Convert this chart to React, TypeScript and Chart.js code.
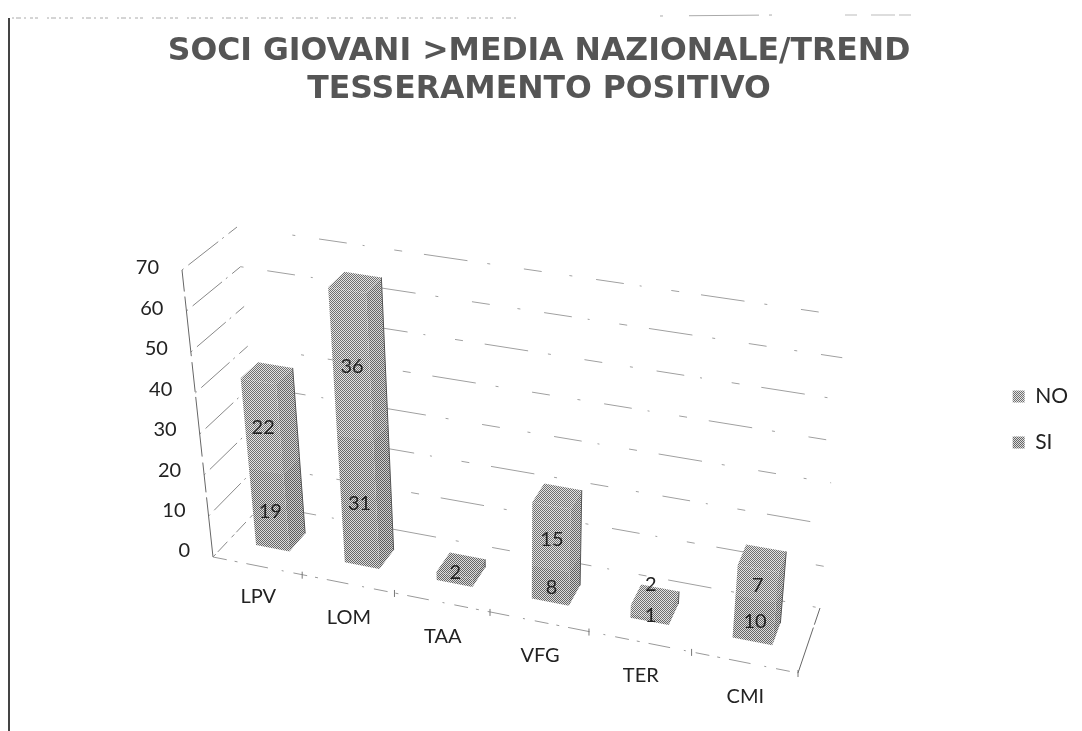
import React, { useEffect, useRef } from "react";
import { Chart, registerables } from "chart.js";

Chart.register(...registerables);

const categories = ["LPV", "LOM", "TAA", "VFG", "TER", "CMI"];
const siValues = [19, 31, 2, 8, 1, 10];
const noValues = [22, 36, 0, 15, 2, 7];
const titleLines = ["SOCI GIOVANI >MEDIA NAZIONALE/TREND", "TESSERAMENTO POSITIVO"];
const LABEL_FONT = "Lato, 'Open Sans', sans-serif";

type Pt = [number, number];
// corners of the drawn perspective box (front/back, bottom/top, left/right)
const FBL: Pt = [213, 557], FBR: Pt = [798, 673], BBL: Pt = [262, 505], BBR: Pt = [820, 608];
const FTL: Pt = [182, 270], FTR: Pt = [828, 368], BTL: Pt = [237, 227], BTR: Pt = [846, 316];
const DEPTH_FRONT = 0.33, DEPTH_BACK = 0.67;

const warp = (u: number) => (u * 0.8994) / (1 - 0.1006 * u);
const lerp = (a: Pt, b: Pt, t: number): Pt => [a[0] + (b[0] - a[0]) * t, a[1] + (b[1] - a[1]) * t];
const project = (u: number, d: number, v: number): Pt => {
  const w = warp(u);
  const bottom = lerp(lerp(FBL, FBR, w), lerp(BBL, BBR, w), d);
  const top = lerp(lerp(FTL, FTR, w), lerp(BTL, BTR, w), d);
  return lerp(bottom, top, v);
};

function makePattern(dark: string, light: string): CanvasPattern {
  const c = document.createElement("canvas");
  c.width = 2;
  c.height = 2;
  const g = c.getContext("2d")!;
  g.fillStyle = light;
  g.fillRect(0, 0, 2, 2);
  g.fillStyle = dark;
  g.fillRect(0, 0, 1, 1);
  g.fillRect(1, 1, 1, 1);
  return g.createPattern(c, "repeat")!;
}

const poly = (ctx: CanvasRenderingContext2D, pts: Pt[], fill: any) => {
  ctx.beginPath();
  pts.forEach((p, i) => (i ? ctx.lineTo(p[0], p[1]) : ctx.moveTo(p[0], p[1])));
  ctx.closePath();
  ctx.fillStyle = fill;
  ctx.fill();
};
const line = (ctx: CanvasRenderingContext2D, a: Pt, b: Pt, dash: number[], color = "#999", w = 1) => {
  ctx.save();
  ctx.setLineDash(dash);
  ctx.strokeStyle = color;
  ctx.lineWidth = w;
  ctx.beginPath();
  ctx.moveTo(a[0], a[1]);
  ctx.lineTo(b[0], b[1]);
  ctx.stroke();
  ctx.restore();
};

const scene = {
  id: "scene",
  beforeDatasetsDraw(chart: any) {
    const { ctx, chartArea: ca, scales } = chart;
    const y = scales.y;
    const toU = (px: number) => (px - ca.left) / (ca.right - ca.left);
    const toV = (px: number) => (ca.bottom - px) / (ca.bottom - ca.top);

    // page frame of the scan
    line(ctx, [9, 18], [9, 731], [], "#444", 2);
    line(ctx, [12, 18], [520, 18], [2, 2, 5, 3, 2, 4, 3, 2, 3, 9], "#aaa", 1);
    line(ctx, [660, 16], [775, 15], [3, 26, 70, 10], "#aaa", 1);
    line(ctx, [845, 15], [925, 15], [12, 14, 24, 4], "#bbb", 1);

    // walls & floor
    const gridDash = [3, 24, 28, 16, 2, 30, 8, 22, 44, 20, 3, 34, 18, 28];
    const sideDash = [2, 6, 38, 5];
    y.ticks.forEach((t: any) => {
      const v = toV(y.getPixelForValue(t.value));
      line(ctx, project(0, 0, v), project(0, 1, v), t.value === 0 ? [4, 3, 14, 6] : sideDash, "#888");
      const dashOffsetStart = project(0.01 * (t.value % 30), 1, v);
      line(ctx, dashOffsetStart, project(1, 1, v), gridDash, "#a0a0a0");
    });
    line(ctx, project(0, 0, 0), project(0, 0, 1), [60, 5, 30, 6], "#666");
    const floorDash = [14, 8, 3, 9, 22, 14, 2, 10];
    line(ctx, project(0, 0, 0), project(1, 0, 0), floorDash, "#999");
    line(ctx, project(1, 0, 0), project(1, 1, 0), [48, 3], "#666");
    categories.forEach((_, i) => {
      const p = project((i + 1) / categories.length, 0, 0);
      line(ctx, [p[0], p[1] - 3], [p[0], p[1] + 4], [], "#777");
    });

    // bars: every box comes from the element geometry of the bar controller
    const metas = [chart.getDatasetMeta(0), chart.getDatasetMeta(1)];
    const sideFills = [makePattern("#5c5c5c", "#cfcfcf"), makePattern("#666", "#d6d6d6")];
    categories.forEach((_, i) => {
      metas.forEach((meta: any, di: number) => {
        const el = meta.data[i];
        const value = chart.data.datasets[di].data[i];
        if (!value) return;
        const u0 = toU(el.x - el.width / 2), u1 = toU(el.x + el.width / 2);
        const v0 = toV(el.base), v1 = toV(el.y);
        const fill = chart.data.datasets[di].backgroundColor;
        const a = DEPTH_FRONT, b = DEPTH_BACK;
        poly(ctx, [project(u1, a, v0), project(u1, b, v0), project(u1, b, v1), project(u1, a, v1)], sideFills[di]);
        poly(ctx, [project(u0, a, v0), project(u1, a, v0), project(u1, a, v1), project(u0, a, v1)], fill);
        poly(ctx, [project(u0, a, v1), project(u1, a, v1), project(u1, b, v1), project(u0, b, v1)], fill);
        line(ctx, project(u1, b, v0), project(u1, b, v1), [], "#555");
      });
      metas.forEach((meta: any, di: number) => {
        const el = meta.data[i];
        const value = chart.data.datasets[di].data[i];
        if (!value) return;
        const p = project(toU(el.x), DEPTH_FRONT, (toV(el.base) + toV(el.y)) / 2);
        // thin segments: the label is pushed clear of its neighbour
        const other = chart.data.datasets[1 - di].data[i];
        let nudge = 2;
        if (value <= 2) nudge = di === 1 ? -28 : other ? -4 : -7;
        ctx.font = `20px ${LABEL_FONT}`;
        ctx.fillStyle = "#222";
        ctx.textAlign = "center";
        ctx.textBaseline = "middle";
        ctx.fillText(String(value), p[0] + 1, p[1] + nudge);
      });
    });

    // axis labels
    ctx.font = `20px ${LABEL_FONT}`;
    ctx.fillStyle = "#222";
    ctx.textBaseline = "middle";
    ctx.textAlign = "right";
    y.ticks.forEach((t: any) => {
      const v = toV(y.getPixelForValue(t.value));
      const p = project(0, 0, v);
      ctx.fillText(String(t.value), p[0] - 23, p[1] - 6 + 4 * v);
    });
    ctx.textAlign = "center";
    const xs = scales.x;
    categories.forEach((c, i) => {
      const p = project(toU(xs.getPixelForTick(i)), 0, 0);
      ctx.fillText(c, p[0] + 1, p[1] + (i === 0 ? 31 : 34));
    });
    return false;
  },
};

export default function App() {
  const ref = useRef<HTMLCanvasElement>(null);
  useEffect(() => {
    const chart = new Chart(ref.current!, {
      type: "bar",
      data: {
        labels: categories,
        datasets: [
          { label: "SI", data: siValues, backgroundColor: makePattern("#666", "#dcdcdc") as any, stack: "s" },
          { label: "NO", data: noValues, backgroundColor: makePattern("#707070", "#e4e4e4") as any, stack: "s" },
        ],
      },
      options: {
        responsive: false,
        animation: false,
        layout: { padding: { left: 0, right: 14, top: 0, bottom: 0 } },
        datasets: { bar: { categoryPercentage: 1, barPercentage: 0.38 } },
        scales: {
          x: { stacked: true, grid: { display: false }, border: { display: false }, ticks: { display: false } },
          y: {
            stacked: true,
            min: 0,
            max: 70,
            grid: { display: false },
            border: { display: false },
            ticks: { display: false, stepSize: 10 },
          },
        },
        plugins: {
          title: {
            display: true,
            text: titleLines,
            color: "#555",
            font: { family: "'DejaVu Sans', Verdana, sans-serif", size: 31.5, weight: "bold", lineHeight: 1.2 },
            padding: { top: 33, bottom: 10 },
          },
          legend: {
            position: "right",
            reverse: true,
            labels: {
              boxWidth: 12,
              boxHeight: 12,
              padding: 25,
              color: "#222",
              font: { family: LABEL_FONT, size: 21 },
            },
          },
          tooltip: { enabled: false },
        },
      },
      plugins: [scene],
    } as any);
    return () => chart.destroy();
  }, []);
  return (
    <div style={{ position: "absolute", left: 0, top: 0, width: 1082, height: 731, background: "#fff", overflow: "hidden" }}>
      <canvas ref={ref} width={1092} height={839} style={{ display: "block" }} />
    </div>
  );
}
